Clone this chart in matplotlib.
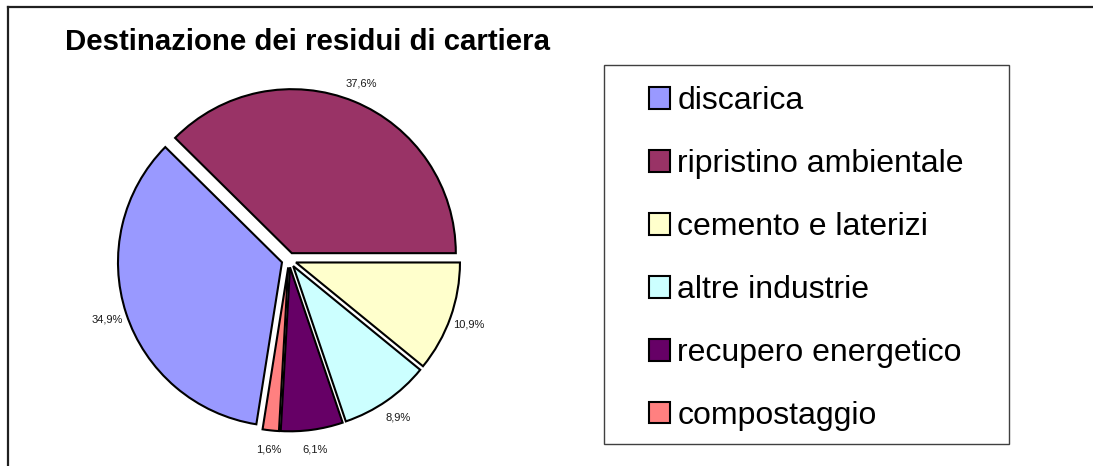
import matplotlib
matplotlib.use("Agg")
import matplotlib.pyplot as plt
from matplotlib.patches import Patch, Rectangle
from matplotlib.lines import Line2D

plt.rcParams['font.family'] = ['Liberation Sans', 'DejaVu Sans']

categories = ["discarica", "ripristino ambientale", "cemento e laterizi",
              "altre industrie", "recupero energetico", "compostaggio"]
values = [34.9, 37.6, 10.9, 8.9, 6.1, 1.6]
colors = ["#9999FF", "#993366", "#FFFFCC", "#CCFFFF", "#660066", "#FF8080"]
title = "Destinazione dei residui di cartiera"

W, H = 1093, 466
fig = plt.figure(figsize=(W / 100, H / 100), dpi=100)
fig.patch.set_facecolor("white")

# outer chart frame (left and top visible)
fig.add_artist(Line2D([8 / W, 8 / W], [0, 1 - 7 / H], transform=fig.transFigure,
                      color="#202020", lw=1.6))
fig.add_artist(Line2D([8 / W, 1], [1 - 7 / H, 1 - 7 / H], transform=fig.transFigure,
                      color="#202020", lw=1.6))

# pie axes: centre at (289, 260) px, radius 164 px
cx, cy, R = 289, 260, 164
side = 400
ax = fig.add_axes([(cx - side / 2) / W, (H - cy - side / 2) / H, side / W, side / H])
half = side / 2 / R

def fmt(p):
    return ("%.1f%%" % p).replace(".", ",")

wedges, texts, autotexts = ax.pie(
    values, colors=colors, explode=[0.045] * len(values), startangle=261,
    counterclock=False, autopct=fmt, pctdistance=1.12,
    wedgeprops=dict(edgecolor="black", linewidth=1.5),
    textprops=dict(fontsize=8, color="#1a1a1a"))
ax.set_xlim(-half, half)
ax.set_ylim(-half, half)
ax.set_aspect("equal")
ax.axis("off")

fig.text(65 / W, 1 - 42 / H, title, fontsize=21.2, fontweight="bold",
         ha="left", va="center")

# legend frame
fig.add_artist(Rectangle((604 / W, 1 - 444 / H), (1009 - 604) / W, (444 - 65) / H,
                         transform=fig.transFigure, facecolor="white",
                         edgecolor="#404040", lw=1.0, zorder=0))
handles = [Patch(facecolor=c, edgecolor="black", linewidth=1.5) for c in colors]
leg = fig.legend(handles, categories, loc="upper left",
                 bbox_to_anchor=(627 / W, 1 - 64 / H), frameon=False,
                 fontsize=23, handlelength=0.66, handleheight=0.66,
                 handletextpad=0.22, labelspacing=1.03, borderpad=0.2)

fig.savefig("out.png", dpi=100, facecolor="white")
